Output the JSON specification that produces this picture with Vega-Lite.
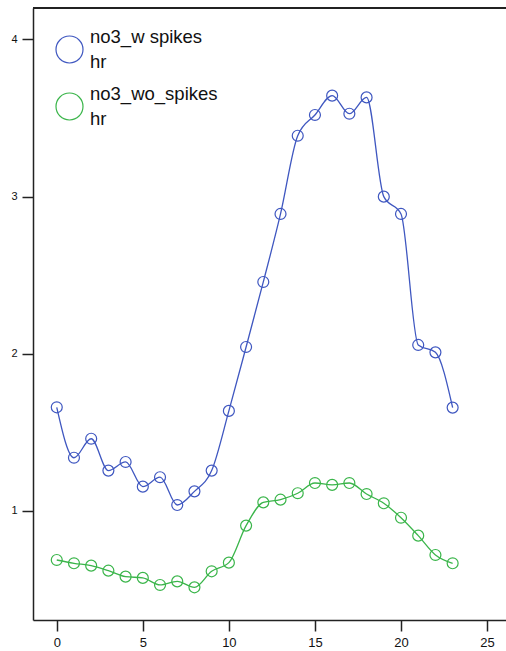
{
  "$schema": "https://vega.github.io/schema/vega-lite/v6.json",
  "autosize": {"type": "none"},
  "padding": {"left": 33, "top": 8, "right": 0, "bottom": 31},
  "width": 473,
  "height": 612,
  "background": "white",
  "config": {
    "font": "Liberation Sans",
    "view": {"stroke": null},
    "style": {"guide-label": {"lineHeight": 25}}
  },
  "data": {
    "values": [
      {"hr": 0, "no3": 1.658, "series": "no3_w spikes"},
      {"hr": 1, "no3": 1.337, "series": "no3_w spikes"},
      {"hr": 2, "no3": 1.458, "series": "no3_w spikes"},
      {"hr": 3, "no3": 1.255, "series": "no3_w spikes"},
      {"hr": 4, "no3": 1.31, "series": "no3_w spikes"},
      {"hr": 5, "no3": 1.153, "series": "no3_w spikes"},
      {"hr": 6, "no3": 1.213, "series": "no3_w spikes"},
      {"hr": 7, "no3": 1.036, "series": "no3_w spikes"},
      {"hr": 8, "no3": 1.123, "series": "no3_w spikes"},
      {"hr": 9, "no3": 1.255, "series": "no3_w spikes"},
      {"hr": 10, "no3": 1.635, "series": "no3_w spikes"},
      {"hr": 11, "no3": 2.042, "series": "no3_w spikes"},
      {"hr": 12, "no3": 2.456, "series": "no3_w spikes"},
      {"hr": 13, "no3": 2.889, "series": "no3_w spikes"},
      {"hr": 14, "no3": 3.387, "series": "no3_w spikes"},
      {"hr": 15, "no3": 3.519, "series": "no3_w spikes"},
      {"hr": 16, "no3": 3.642, "series": "no3_w spikes"},
      {"hr": 17, "no3": 3.527, "series": "no3_w spikes"},
      {"hr": 18, "no3": 3.631, "series": "no3_w spikes"},
      {"hr": 19, "no3": 2.999, "series": "no3_w spikes"},
      {"hr": 20, "no3": 2.889, "series": "no3_w spikes"},
      {"hr": 21, "no3": 2.055, "series": "no3_w spikes"},
      {"hr": 22, "no3": 2.008, "series": "no3_w spikes"},
      {"hr": 23, "no3": 1.656, "series": "no3_w spikes"},
      {"hr": 0, "no3": 0.686, "series": "no3_wo_spikes"},
      {"hr": 1, "no3": 0.665, "series": "no3_wo_spikes"},
      {"hr": 2, "no3": 0.65, "series": "no3_wo_spikes"},
      {"hr": 3, "no3": 0.618, "series": "no3_wo_spikes"},
      {"hr": 4, "no3": 0.58, "series": "no3_wo_spikes"},
      {"hr": 5, "no3": 0.572, "series": "no3_wo_spikes"},
      {"hr": 6, "no3": 0.527, "series": "no3_wo_spikes"},
      {"hr": 7, "no3": 0.55, "series": "no3_wo_spikes"},
      {"hr": 8, "no3": 0.512, "series": "no3_wo_spikes"},
      {"hr": 9, "no3": 0.614, "series": "no3_wo_spikes"},
      {"hr": 10, "no3": 0.669, "series": "no3_wo_spikes"},
      {"hr": 11, "no3": 0.905, "series": "no3_wo_spikes"},
      {"hr": 12, "no3": 1.053, "series": "no3_wo_spikes"},
      {"hr": 13, "no3": 1.07, "series": "no3_wo_spikes"},
      {"hr": 14, "no3": 1.111, "series": "no3_wo_spikes"},
      {"hr": 15, "no3": 1.176, "series": "no3_wo_spikes"},
      {"hr": 16, "no3": 1.164, "series": "no3_wo_spikes"},
      {"hr": 17, "no3": 1.176, "series": "no3_wo_spikes"},
      {"hr": 18, "no3": 1.106, "series": "no3_wo_spikes"},
      {"hr": 19, "no3": 1.047, "series": "no3_wo_spikes"},
      {"hr": 20, "no3": 0.955, "series": "no3_wo_spikes"},
      {"hr": 21, "no3": 0.841, "series": "no3_wo_spikes"},
      {"hr": 22, "no3": 0.718, "series": "no3_wo_spikes"},
      {"hr": 23, "no3": 0.665, "series": "no3_wo_spikes"}
    ]
  },
  "layer": [
    {
      "mark": {"type": "rule", "color": "#222222", "strokeWidth": 1.5},
      "encoding": {
        "y": {"datum": 4.2, "type": "quantitative", "scale": {"domain": [0.304, 4.2], "nice": false, "zero": false}}
      }
    },
    {
      "encoding": {
        "x": {
          "field": "hr",
          "type": "quantitative",
          "scale": {"domain": [-1.38, 26.1], "nice": false, "zero": false},
          "axis": {
            "title": null,
            "values": [0, 5, 10, 15, 20, 25],
            "format": "d",
            "grid": false,
            "domain": true,
            "domainColor": "#222222",
            "domainWidth": 1.5,
            "tickColor": "#222222",
            "tickWidth": 1.5,
            "tickSize": 11,
            "labelFontSize": 13,
            "labelColor": "#111111",
            "labelPadding": 5
          }
        },
        "y": {
          "field": "no3",
          "type": "quantitative",
          "scale": {"domain": [0.304, 4.2], "nice": false, "zero": false},
          "axis": {
            "title": null,
            "values": [1, 2, 3, 4],
            "format": "d",
            "grid": false,
            "domain": true,
            "domainColor": "#222222",
            "domainWidth": 1.5,
            "tickColor": "#222222",
            "tickWidth": 1.5,
            "tickSize": 11,
            "labelFontSize": 11,
            "labelColor": "#111111",
            "labelPadding": 5
          }
        },
        "color": {
          "field": "series",
          "type": "nominal",
          "scale": {
            "domain": ["no3_w spikes", "no3_wo_spikes"],
            "range": ["#3f57c0", "#3ab54a"]
          },
          "legend": {
            "orient": "none",
            "legendX": 22,
            "legendY": 27,
            "padding": 0,
            "title": null,
            "symbolType": "circle",
            "symbolSize": 729,
            "symbolStrokeWidth": 1.2,
            "symbolFillColor": "transparent",
            "labelExpr": "[datum.label, 'hr']",
            "labelFont": "Liberation Sans",
            "labelFontSize": 18.5,
            "labelBaseline": "line-bottom",
            "labelColor": "#111111",
            "labelOffset": 6,
            "labelLimit": 300,
            "rowPadding": 13
          }
        }
      },
      "layer": [
        {
          "mark": {"type": "line", "interpolate": "monotone", "strokeWidth": 1.3}
        },
        {
          "mark": {"type": "point", "shape": "circle", "filled": false, "size": 120, "strokeWidth": 1.2, "opacity": 1}
        }
      ]
    }
  ]
}
